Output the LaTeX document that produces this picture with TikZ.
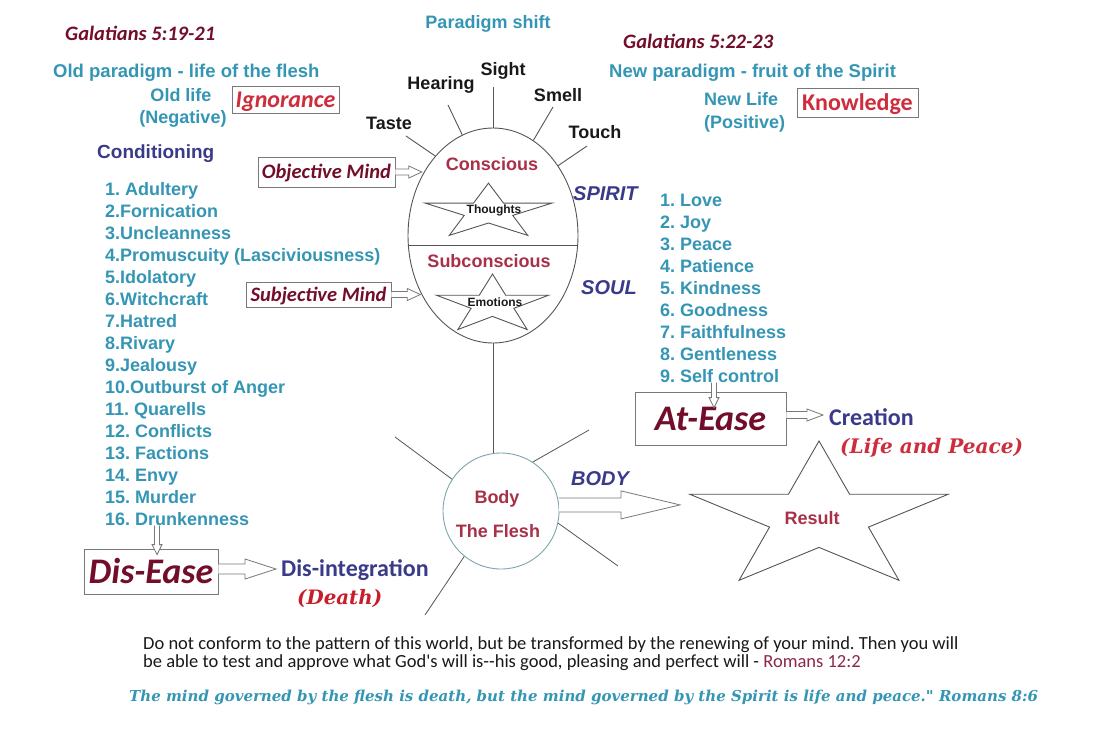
\documentclass[tikz,border=0pt]{standalone}
\usepackage{fontspec}
\usepackage{graphicx}
\setmainfont{Liberation Sans}
\newfontfamily\carlito{Carlito}
\newfontfamily\dvserif{DejaVu Serif}
\usetikzlibrary{calc,shapes.geometric}

\definecolor{tealc}{RGB}{52,150,180}
\definecolor{navyc}{RGB}{58,58,138}
\definecolor{maroonc}{RGB}{115,14,42}
\definecolor{redc}{RGB}{205,45,60}
\definecolor{rosec}{RGB}{168,48,72}
\definecolor{deathc}{RGB}{200,30,42}
\definecolor{romc}{RGB}{140,40,70}
\definecolor{linec}{RGB}{85,85,85}
\definecolor{bodyc}{RGB}{125,165,175}
\definecolor{boxc}{RGB}{120,120,120}
\definecolor{darkc}{RGB}{25,25,25}

\newcommand\fsz[1]{\fontsize{#1}{#1}\selectfont}

\tikzset{
  sansb/.style={font={\fsz{#1}\bfseries}, text height={0.72*#1pt}, text depth=0pt, inner sep=0pt},
  sansbi/.style={font={\fsz{#1}\bfseries\itshape}, text height={0.72*#1pt}, text depth=0pt, inner sep=0pt},
  carlb/.style={font={\carlito\fsz{#1}\bfseries}, text height={0.64*#1pt}, text depth=0pt, inner sep=0pt},
  carlbi/.style={font={\carlito\fsz{#1}\bfseries\itshape}, text height={0.64*#1pt}, text depth=0pt, inner sep=0pt},
  carlr/.style={font={\carlito\fsz{#1}}, text height={0.64*#1pt}, text depth=0pt, inner sep=0pt},
  serifbi/.style={font={\dvserif\bfseries\itshape}, inner sep=0pt},
  listL/.style={sansb=18, text=tealc, anchor=west},
  boxed/.style={draw=boxc, line width=0.8pt},
  ray/.style={draw=linec, line width=0.9pt},
  bray/.style={draw=linec, line width=0.8pt},
  starline/.style={draw=linec, line width=0.9pt},
  blk/.style={draw=boxc, line width=0.8pt, fill=white},
}

% horizontal hollow block arrow: start, end, shaft half, head half, head length
\newcommand\harrow[5]{%
  \draw[blk] let \p1=(#1), \p2=(#2) in
  (\x1,\y1+#3) -- (\x2-#5,\y1+#3) -- (\x2-#5,\y1+#4) -- (\x2,\y1) -- (\x2-#5,\y1-#4) -- (\x2-#5,\y1-#3) -- (\x1,\y1-#3);}
% vertical (downward) hollow block arrow
\newcommand\varrow[5]{%
  \draw[blk] let \p1=(#1), \p2=(#2) in
  (\x1-#3,\y1) -- (\x1-#3,\y2+#5) -- (\x1-#4,\y2+#5) -- (\x1,\y2) -- (\x1+#4,\y2+#5) -- (\x1+#3,\y2+#5) -- (\x1+#3,\y1);}
% five-point star: center, rx, ry, inner rx, inner ry
\newcommand\starpoly[5]{%
  \draw[starline] ($(#1)+(90:#2pt and #3pt)$)
  \foreach \k in {0,...,4}{ -- ($(#1)+(126+72*\k:#4pt and #5pt)$) -- ($(#1)+(162+72*\k:#2pt and #3pt)$) } -- cycle;}

\begin{document}
\frenchspacing
\begin{tikzpicture}[x=1pt,y=-1pt]
\useasboundingbox (0,0) rectangle (1111,742);
\fill[white] (0,0) rectangle (1111,742);

% headings
\node[sansb=18, text=tealc] (shift) at (488,22) {Paradigm shift};
\node[carlbi=20.5, text=maroonc, anchor=west] (gal1) at (65,34) {Galatians 5:19-21};
\node[carlbi=20.5, text=maroonc, anchor=west] (gal2) at (623,42) {Galatians 5:22-23};
\node[sansb=18.5, text=tealc, anchor=west] (oldp) at (53,71) {Old paradigm - life of the flesh};
\node[sansb=18.5, text=tealc, anchor=west] (newp) at (609,71) {New paradigm - fruit of the Spirit};
\node[sansb=18, text=tealc] (oldlife) at (181,95) {Old life};
\node[sansb=18, text=tealc] (neg) at (183,117) {(Negative)};
\node[sansb=18, text=tealc, anchor=west] (newlife) at (704,99) {New Life};
\node[sansb=18, text=tealc, anchor=west] (pos) at (704,122) {(Positive)};
\node[boxed, carlbi=24, text=redc, minimum width=107pt, minimum height=27pt] (ign) at (285.5,99.5) {Ignorance};
\node[boxed, carlb=24, text=redc, minimum width=121pt, minimum height=29pt] (know) at (857.5,102.5) {Knowledge};
\node[sansb=19, text=navyc, anchor=west] (cond) at (97,152) {Conditioning};

% mind ellipse
\node[draw=linec, line width=0.9pt, ellipse, minimum width=170pt, minimum height=215pt, inner sep=0pt] (mind) at (493,235.5) {};
\draw[ray] (408.3,245) -- (577.7,245);

% senses
\node[sansb=18, text=darkc] (sight) at (503,69) {Sight};
\node[sansb=18, text=darkc] (hearing) at (441,83) {Hearing};
\node[sansb=18, text=darkc] (smell) at (558,95) {Smell};
\node[sansb=18, text=darkc] (taste) at (389,123) {Taste};
\node[sansb=18, text=darkc] (touch) at (595,132) {Touch};
\coordinate (rsight) at (493,87);
\coordinate (rhear) at (448,105);
\coordinate (rsmell) at (553,107);
\coordinate (rtaste) at (406,136);
\coordinate (rtouch) at (587,146);
\draw[ray] (rsight) -- (mind.90);
\draw[ray] (rhear) -- (mind.107.7);
\draw[ray] (rsmell) -- (mind.67.7);
\draw[ray] (rtaste) -- (mind.126.4);
\draw[ray] (rtouch) -- (mind.47.8);

\node[sansb=18, text=rosec] (consc) at (492,164) {Conscious};
\node[sansb=18, text=rosec] (subc) at (489,261) {Subconscious};
\coordinate (tc) at (488.5,212);
\starpoly{tc}{66.8}{28.9}{25.5}{11.0}
\node[sansb=12, text=darkc] (thoughts) at (494,209) {Thoughts};
\coordinate (ec) at (492.5,304.7);
\starpoly{ec}{59}{30.7}{22.5}{11.7}
\node[sansb=12, text=darkc] (emotions) at (495,302) {Emotions};

\node[sansbi=20, text=navyc, anchor=west] (spirit) at (573,193) {SPIRIT};
\node[sansbi=20, text=navyc, anchor=west] (soul) at (581,287) {SOUL};
\node[sansbi=20, text=navyc] (bodylbl) at (600,478) {BODY};

% mind boxes
\node[boxed, carlbi=20.5, text=maroonc, minimum width=137pt, minimum height=30pt] (omind) at (326.5,172) {Objective Mind};
\node[boxed, carlbi=20.5, text=maroonc, minimum width=145pt, minimum height=25pt] (smind) at (318.5,294.5) {Subjective Mind};
\harrow{omind.east}{mind.140}{3pt}{6pt}{13pt}
\harrow{smind.east}{mind.218}{3pt}{6pt}{13pt}

% lists
\foreach \t [count=\i] in {1. Adultery,2.Fornication,3.Uncleanness,4.Promuscuity (Lasciviousness),5.Idolatory,6.Witchcraft,7.Hatred,8.Rivary,9.Jealousy,10.Outburst of Anger,11. Quarells,12. Conflicts,13. Factions,14. Envy,15. Murder,16. Drunkenness}
  \node[listL] (L\i) at (105,{189+22*(\i-1)}) {\t};
\foreach \t [count=\i] in {1. Love,2. Joy,3. Peace,4. Patience,5. Kindness,6. Goodness,7. Faithfulness,8. Gentleness,9. Self control}
  \node[listL] (R\i) at (660,{200+22*(\i-1)}) {\t};

% body
\node[draw=bodyc, line width=0.9pt, circle, minimum size=116pt, inner sep=0pt] (body) at (501,511) {};
\node[sansb=18, text=rosec] (bodyt) at (497,497) {Body};
\node[sansb=18, text=rosec] (flesh) at (498,531) {The Flesh};
\draw[ray] (mind.south) -- (mind.south |- body.north);
\coordinate (b1) at (395,437);
\coordinate (b2) at (589,430);
\coordinate (b3) at (425,615);
\coordinate (b4) at (618,566);
\draw[bray] (b1) -- (body.147);
\draw[bray] (b2) -- (body.57);
\draw[bray] (b3) -- (body.231);
\draw[bray] (b4) -- (body.348);

% result
\coordinate (rc) at (819,518);
\starpoly{rc}{136}{77}{52}{29.4}
\node[sansb=18, text=rosec] (result) at (812,518) {Result};
\coordinate (restip) at (680,505);
\harrow{body.6}{restip}{7pt}{14pt}{59pt}

% at-ease
\node[boxed, carlbi=36, text=maroonc, minimum width=151pt, minimum height=53pt] (atease) at (710.5,418.5) {At-Ease};
\node[carlb=24, text=navyc, anchor=west] (creation) at (829,418) {Creation};
\node[serifbi, text=redc, anchor=west] (life) at (840,448) {\resizebox{183pt}{!}{(Life and Peace)}};
\varrow{[xshift=3.5pt]atease.north |- R9.south}{[xshift=3.5pt,yshift=-16pt]atease.north}{2.5pt}{5pt}{10pt}
\harrow{[yshift=3.5pt]atease.east}{[xshift=-6pt]creation.west}{3.5pt}{6pt}{16pt}

% dis-ease
\node[boxed, carlbi=36, text=maroonc, minimum width=134pt, minimum height=45pt] (disease) at (151,571.5) {Dis-Ease};
\node[carlb=24, text=navyc, anchor=west] (disint) at (281,569) {Dis-integration};
\node[serifbi, text=deathc, anchor=west] (death) at (297,599) {\resizebox{85pt}{!}{(Death)}};
\varrow{[xshift=6pt]disease.north |- L16.south}{[xshift=6pt,yshift=-6pt]disease.north}{2.5pt}{5pt}{10pt}
\harrow{[yshift=2.5pt]disease.east}{[xshift=-5pt]disint.west}{5pt}{10pt}{31pt}

% bottom verses
\node[carlr=18.5, text=darkc, anchor=west] (v1) at (143,644) {Do not conform to the pattern of this world, but be transformed by the renewing of your mind. Then you will};
\node[carlr=18.5, text=darkc, anchor=west] (v2) at (143,662) {be able to test and approve what God's will is{-}{-}his good, pleasing and perfect will - \textcolor{romc}{Romans 12:2}};
\node[inner sep=0pt, text=tealc, anchor=west] (quote) at (129,697) {\resizebox{909pt}{!}{\dvserif\bfseries\itshape\fsz{14}The mind governed by the flesh is death, but the mind governed by the Spirit is life and peace." Romans 8:6}};
\end{tikzpicture}
\end{document}
